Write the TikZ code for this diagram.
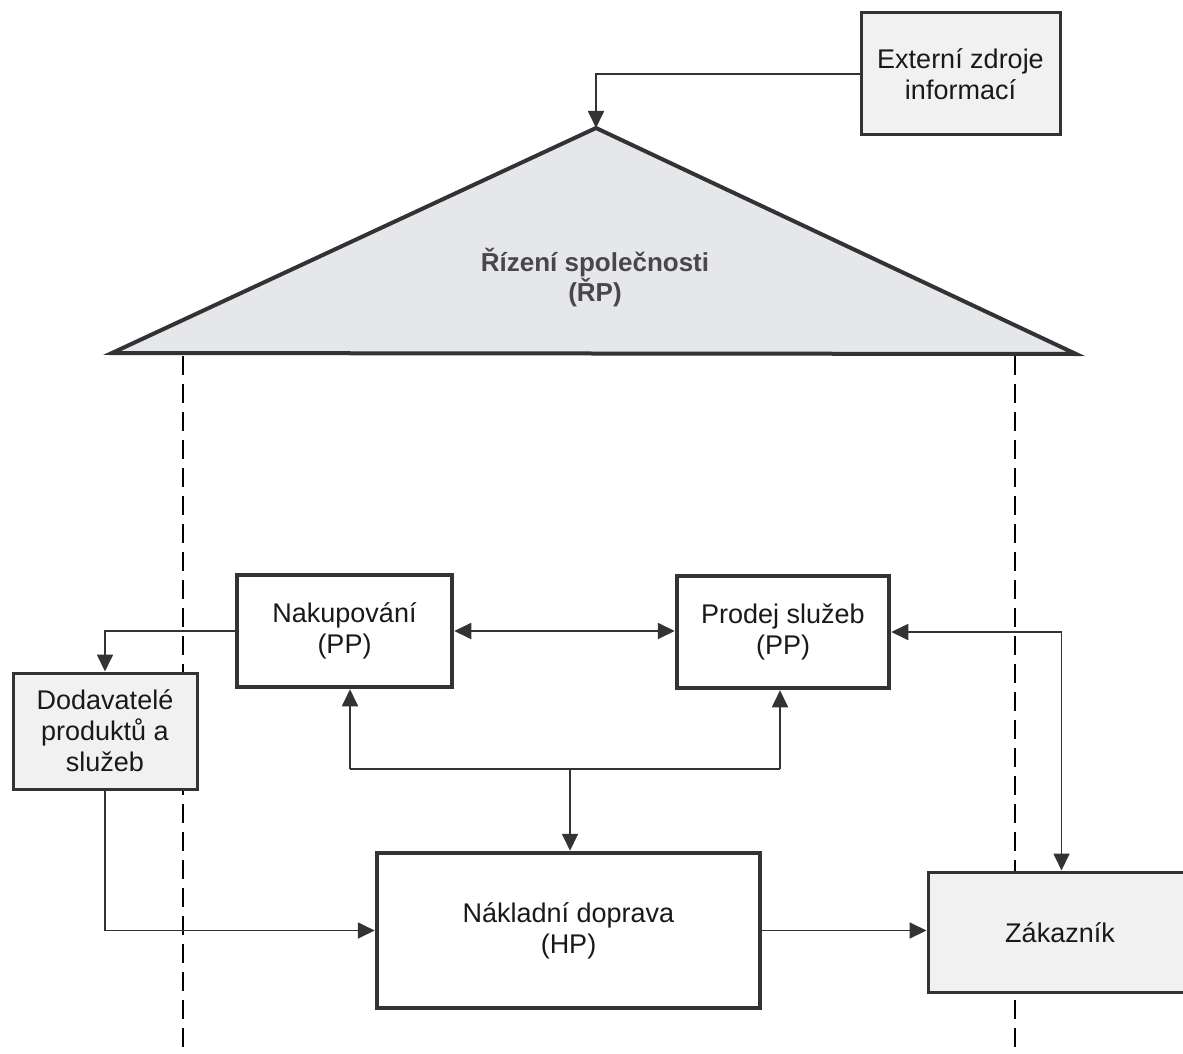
\documentclass[tikz,border=0pt]{standalone}
\usepackage{fontspec}
\setmainfont{Liberation Sans}
\usetikzlibrary{arrows.meta}
\definecolor{ink}{HTML}{333333}
\definecolor{boxgray}{HTML}{F1F1F1}
\definecolor{trifill}{HTML}{E6E7EA}
\definecolor{tritext}{HTML}{484848}
\begin{document}
\begin{tikzpicture}[x=1pt,y=-1pt,
  tipstyle/.style={-{Triangle[length=17pt,width=16pt]}},
  bitip/.style={{Triangle[length=17pt,width=16pt]}-{Triangle[length=17pt,width=16pt]}},
  conn/.style={draw=ink, fill=none, line width=1.8pt},
  boxtext/.style={align=center, inner sep=0pt, text=black!90, font=\fontsize{27}{31}\selectfont},
  procbox/.style={boxtext, draw=ink, line width=4.5pt, fill=white},
  extbox/.style={boxtext, draw=ink, line width=3pt, fill=boxgray},
  divider/.style={draw=black, line width=2.8pt, dash pattern=on 19pt off 9pt}]
\useasboundingbox (0,0) rectangle (1183,1054);

% roof triangle
\coordinate (apex) at (596,128);
\coordinate (roofL) at (112,353);
\coordinate (roofR) at (1076,354);
\filldraw[fill=trifill, draw=ink, line width=4pt, line join=miter] (roofL) -- (apex) -- (roofR) -- cycle;
\node[align=center, inner sep=0pt, text=tritext, font=\bfseries\fontsize{26}{30}\selectfont] (rp) at (595,278) {Řízení společnosti\\(ŘP)};

% dashed borders
\coordinate (dl1) at (183,356);
\coordinate (dl2) at (183,1054);
\coordinate (dr1) at (1015,356);
\coordinate (dr2) at (1015,1054);
\draw[divider] (dl1) -- (dl2);
\draw[divider] (dr1) -- (dr2);

% boxes
\node[extbox, minimum width=199pt, minimum height=122pt] (ext) at (960.5,74) {Externí zdroje\\informací};
\node[procbox, minimum width=215pt, minimum height=112pt] (nak) at (344.5,631) {Nakupování\\(PP)};
\node[procbox, minimum width=212pt, minimum height=112pt] (prod) at (783,632) {Prodej služeb\\(PP)};
\node[extbox, minimum width=184pt, minimum height=116pt] (dod) at (105,731) {Dodavatelé\\produktů a\\služeb};
\node[procbox, minimum width=383pt, minimum height=155pt] (nakl) at (568.5,930.5) {Nákladní doprava\\(HP)};
\node[extbox, minimum width=267pt, minimum height=120pt] (zak) at (1061.5,932) {};
\node[boxtext] (zaktext) at (1060,933) {Zákazník};

% connectors
\draw[conn, tipstyle] (ext.west) -| (apex);
\draw[conn, tipstyle] (nak.west) -| (dod.north);
\draw[conn, bitip] (nak.east) -- (nak.east -| prod.west);
\coordinate (J) at (570,769);
\coordinate (JL) at (350,769);
\coordinate (JR) at (780,769);
\draw[conn] (JL) -- (JR);
\draw[conn, tipstyle] (JL) -- (JL |- nak.south);
\draw[conn, tipstyle] (JR) -- (JR |- prod.south);
\draw[conn, tipstyle] (J) -- (J |- nakl.north);
\draw[conn, tipstyle] (dod.south) |- (nakl.west);
\draw[conn, tipstyle] (nakl.east) -- (nakl.east -| zak.west);
\draw[conn, bitip] (prod.east) -| (zak.north);
\end{tikzpicture}
\end{document}
